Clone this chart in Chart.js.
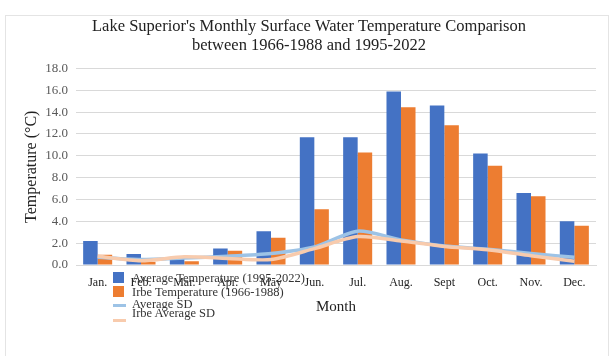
<!DOCTYPE html>
<html>
<head>
<meta charset="utf-8">
<script src="https://cdn.jsdelivr.net/npm/chart.js@4.4.2/dist/chart.umd.min.js"></script>
<style>
  html, body { margin: 0; padding: 0; background: #fff; }
  #wrap { position: relative; width: 615px; height: 356px; }
  #frame { position: absolute; left: 5px; top: 15px; width: 602px; height: 360px; border: 1px solid #e4e4e4; }
  #legend { position: absolute; left: 0; top: 0; font: 12.5px "Liberation Serif", serif; color: #333; line-height: 12px; }
  #legend span { position: absolute; white-space: nowrap; }
</style>
</head>
<body>
<div id="wrap">
  <div id="frame"></div>
  <canvas id="chart" width="615" height="356"></canvas>
  <div id="legend"></div>
</div>
<script>
const months = ['Jan.', 'Feb.', 'Mar.', 'Apr.', 'May', 'Jun.', 'Jul.', 'Aug.', 'Sept', 'Oct.', 'Nov.', 'Dec.'];
const avgTemp = [2.2, 1.0, 0.6, 1.5, 3.1, 11.7, 11.7, 15.9, 14.6, 10.2, 6.6, 4.0];
const irbeTemp = [0.95, 0.3, 0.35, 1.3, 2.5, 5.1, 10.3, 14.45, 12.8, 9.1, 6.3, 3.6];
const avgSD = [0.7, 0.5, 0.65, 0.8, 1.05, 1.65, 3.1, 2.3, 1.75, 1.45, 1.05, 0.7];
const irbeSD = [0.8, 0.4, 0.75, 0.6, 0.5, 1.5, 2.6, 2.2, 1.7, 1.4, 0.85, 0.35];
const yTicks = [0, 2, 4, 6, 8, 10, 12, 14, 16, 18];

const blue = '#4472C4';
const orange = '#ED7D31';
const lightBlue = '#9DC3E6';
const peach = '#F8CBAD';
const serif = '"Liberation Serif", "Times New Roman", serif';

// the legend in the original sits on top of the month labels, rows unevenly spaced
const legendItems = [
  { label: 'Average Temperature (1995-2022)', color: blue, kind: 'box', textTop: 272, markTop: 272, markH: 11 },
  { label: 'Irbe Temperature (1966-1988)', color: orange, kind: 'box', textTop: 286, markTop: 286, markH: 11 },
  { label: 'Average SD', color: lightBlue, kind: 'line', textTop: 298, markTop: 304, markH: 3 },
  { label: 'Irbe Average SD', color: peach, kind: 'line', textTop: 307, markTop: 319, markH: 3 }
];
const legend = document.getElementById('legend');
legendItems.forEach((item) => {
  const mark = document.createElement('span');
  mark.style.left = '113px';
  mark.style.top = item.markTop + 'px';
  mark.style.width = (item.kind === 'box' ? 11 : 13) + 'px';
  mark.style.height = item.markH + 'px';
  mark.style.background = item.color;
  legend.appendChild(mark);
  const text = document.createElement('span');
  text.style.left = '132px';
  text.style.top = item.textTop + 'px';
  text.textContent = item.label;
  legend.appendChild(text);
});

new Chart(document.getElementById('chart'), {
  data: {
    labels: months,
    datasets: [
      { type: 'bar', label: legendItems[0].label, data: avgTemp, backgroundColor: blue, order: 2,
        barPercentage: 1, categoryPercentage: 0.67 },
      { type: 'bar', label: legendItems[1].label, data: irbeTemp, backgroundColor: orange, order: 2,
        barPercentage: 1, categoryPercentage: 0.67 },
      { type: 'line', label: legendItems[2].label, data: avgSD, borderColor: lightBlue, borderWidth: 3.5,
        pointRadius: 0, tension: 0.25, order: 1 },
      { type: 'line', label: legendItems[3].label, data: irbeSD, borderColor: peach, borderWidth: 3.5,
        pointRadius: 0, tension: 0.25, order: 0 }
    ]
  },
  options: {
    responsive: false,
    animation: false,
    layout: { padding: { left: 22, right: 19, top: 16, bottom: 40 } },
    plugins: {
      legend: { display: false },
      tooltip: { enabled: false },
      title: {
        display: true,
        text: ["Lake Superior's Monthly Surface Water Temperature Comparison", 'between 1966-1988 and 1995-2022'],
        color: '#222',
        font: { family: serif, size: 16.5, weight: 'normal', lineHeight: 1.15 },
        padding: { top: 1, bottom: 13.5 }
      }
    },
    scales: {
      x: {
        grid: { display: false },
        border: { color: '#d9d9d9' },
        ticks: { color: '#222', font: { family: serif, size: 12 }, padding: 3, maxRotation: 0, autoSkip: false },
        title: { display: true, text: 'Month', color: '#222', font: { family: serif, size: 15 }, padding: { top: 4, bottom: 0 } },
        afterFit: (s) => { s.height = 51; }
      },
      y: {
        min: 0,
        max: 18,
        afterBuildTicks: (s) => { s.ticks = yTicks.map((v) => ({ value: v })); },
        grid: { color: '#d9d9d9', drawTicks: false },
        border: { display: false },
        ticks: { color: '#595959', font: { family: serif, size: 13 }, padding: 8,
          callback: (v) => Number(v).toFixed(1) },
        title: { display: true, text: 'Temperature (°C)', color: '#222', font: { family: serif, size: 16 }, padding: 0 },
        afterFit: (s) => { s.width = 54; }
      }
    }
  }
});
</script>
</body>
</html>
